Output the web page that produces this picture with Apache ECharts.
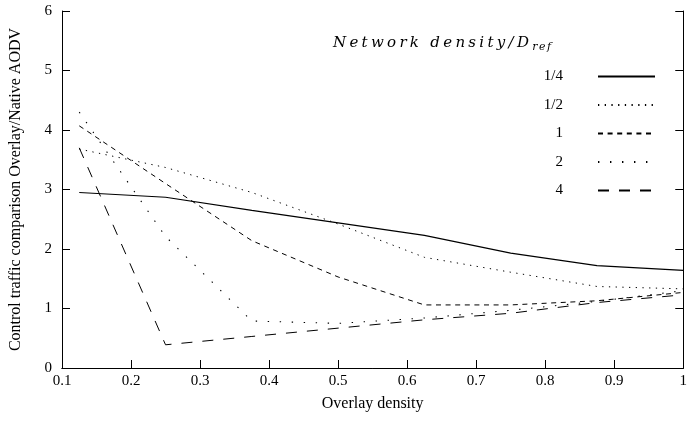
<!DOCTYPE html>
<html>
<head>
<meta charset="utf-8">
<script src="https://cdn.jsdelivr.net/npm/echarts@6/dist/echarts.min.js"></script>
<style>html,body{margin:0;padding:0;background:#fff;}#c{width:690px;height:421px;}</style>
</head>
<body>
<div id="c"></div>
<script>
var overlayDensity = [0.125, 0.25, 0.375, 0.5, 0.625, 0.75, 0.875, 1.0];
var seriesNames = ['1/4', '1/2', '1', '2', '4'];
var s_quarter = [2.95, 2.87, 2.65, 2.44, 2.23, 1.93, 1.72, 1.64];
var s_half    = [3.68, 3.37, 2.95, 2.42, 1.86, 1.61, 1.37, 1.33];
var s_one     = [4.07, 3.10, 2.14, 1.53, 1.06, 1.06, 1.13, 1.27];
var s_two     = [4.30, 2.21, 0.79, 0.75, 0.84, 0.97, 1.12, 1.30];
var s_four    = [3.70, 0.39, 0.53, 0.67, 0.81, 0.92, 1.10, 1.23];
var xTicks = [0.1, 0.2, 0.3, 0.4, 0.5, 0.6, 0.7, 0.8, 0.9, 1];
var yTicks = [0, 1, 2, 3, 4, 5, 6];
var legendTitleMain = 'Network density/D';
var legendTitleSub = 'ref';

var allValues = [s_quarter, s_half, s_one, s_two, s_four];
var dashes = ['solid', [1.3, 5.4], [5, 4.6], [1.4, 10.6], [11, 10]];
var widths = [1.2, 1, 1, 1.1, 1];

function pairs(v) { return overlayDensity.map(function (x, i) { return [x, v[i]]; }); }

var series = seriesNames.map(function (n, i) {
  return {
    name: n, type: 'line', data: pairs(allValues[i]), symbol: 'none', showSymbol: false, symbolSize: 0, silent: true,
    lineStyle: { color: '#000', width: widths[i], type: dashes[i] },
    itemStyle: { color: '#000' }
  };
});

function spaced(str, style) {
  return str.split('').map(function (ch) { return '{' + style + '|' + ch + '}'; }).join('');
}

var serif = '"Liberation Serif", "DejaVu Serif", serif';
var chart = echarts.init(document.getElementById('c'));
chart.setOption({
  animation: false,
  backgroundColor: '#fff',
  title: {
    text: spaced(legendTitleMain, 'a') + spaced(legendTitleSub, 'b'),
    left: 328, top: 29,
    textStyle: {
      fontWeight: 'normal',
      rich: {
        a: { fontFamily: '"DejaVu Serif", serif', fontStyle: 'italic', fontWeight: 'normal', fontSize: 15, color: '#000', padding: [0, 3.3, 0, 0] },
        b: { fontFamily: '"DejaVu Serif", serif', fontStyle: 'italic', fontWeight: 'normal', fontSize: 11, color: '#000', padding: [8, 1.5, 0, 0] }
      }
    }
  },
  legend: {
    orient: 'vertical', right: 29, top: 64, align: 'right',
    itemWidth: 57, itemHeight: 10, itemGap: 13.5,
    data: seriesNames,
    itemStyle: { opacity: 0 },
    textStyle: { fontFamily: serif, fontSize: 15, color: '#000', width: 60, align: 'right', padding: [0, 30, 0, 0] }
  },
  grid: { left: 62, right: 3, top: 11, bottom: 53, show: false },
  xAxis: [{
    type: 'value', min: 0.1, max: 1, interval: 0.1,
    name: 'Overlay density', nameLocation: 'middle', nameGap: 28,
    nameTextStyle: { fontFamily: serif, fontSize: 16, color: '#000' },
    axisLine: { lineStyle: { color: '#000', width: 1 } },
    axisTick: { inside: true, length: 8, lineStyle: { color: '#000' } },
    axisLabel: { fontFamily: serif, fontSize: 15, color: '#000', margin: 6,
      formatter: function (v) { return String(Math.round(v * 10) / 10); } },
    splitLine: { show: false }
  }, {
    type: 'value', min: 0.1, max: 1, interval: 0.1, position: 'top',
    axisLine: { show: true, lineStyle: { color: '#000', width: 1 } },
    axisTick: { show: false }, axisLabel: { show: false }, splitLine: { show: false }
  }],
  yAxis: [{
    type: 'value', min: 0, max: 6, interval: 1,
    name: 'Control traffic comparison Overlay/Native AODV', nameLocation: 'middle', nameGap: 38,
    nameTextStyle: { fontFamily: serif, fontSize: 16, color: '#000' },
    axisLine: { show: true, lineStyle: { color: '#000', width: 1 } },
    axisTick: { inside: true, length: 8, lineStyle: { color: '#000' } },
    axisLabel: { fontFamily: serif, fontSize: 15, color: '#000', margin: 10 },
    splitLine: { show: false }
  }, {
    type: 'value', min: 0, max: 6, interval: 1, position: 'right',
    axisLine: { show: true, lineStyle: { color: '#000', width: 1 } },
    axisTick: { inside: true, length: 8, lineStyle: { color: '#000' } },
    axisLabel: { show: false }, splitLine: { show: false }
  }],
  series: series
});
</script>
</body>
</html>
